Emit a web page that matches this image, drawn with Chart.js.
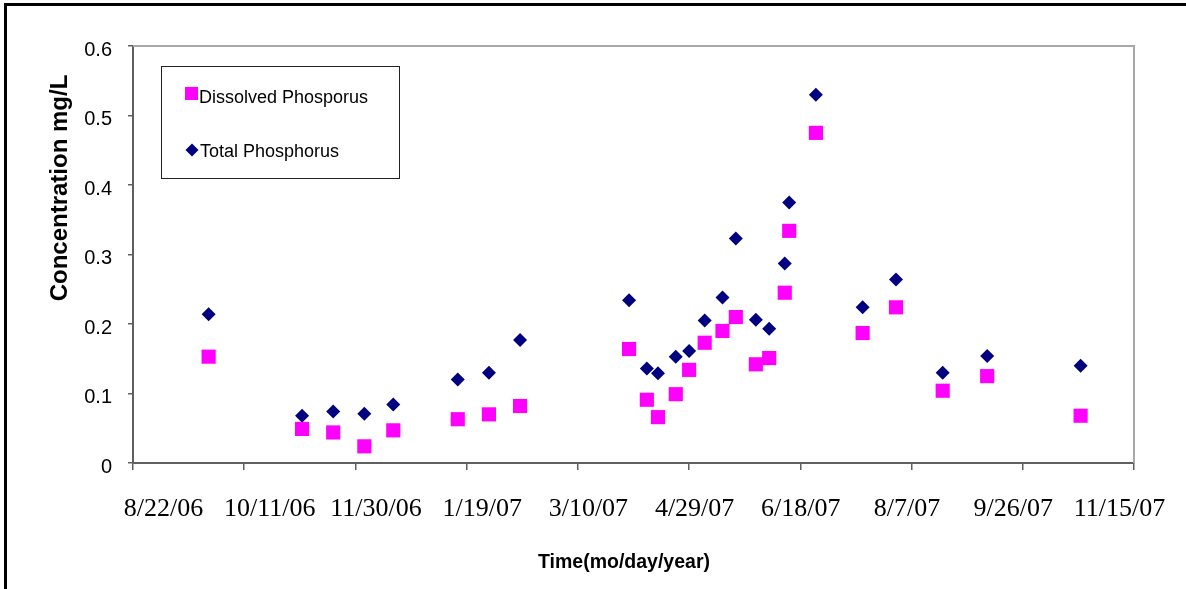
<!DOCTYPE html>
<html>
<head>
<meta charset="utf-8">
<title>Phosphorus concentration</title>
<script src="https://cdn.jsdelivr.net/npm/chart.js@4.4.1/dist/chart.umd.min.js"></script>
<style>
    html, body { margin: 0; padding: 0; background: #fff; }
    #wrap { position: relative; width: 1186px; height: 589px; }
    #frame {
        position: absolute; left: 4px; top: 3px; right: 0; bottom: 0;
        border-top: 3px solid #000; border-left: 3px solid #000;
        pointer-events: none;
    }
</style>
</head>
<body>
<div id="wrap">
    <canvas id="phosChart"></canvas>
    <div id="frame"></div>
</div>
<script>
const sampleDates = [
    "9/25/06", "11/6/06", "11/20/06", "12/4/06", "12/17/06", "1/15/07", "1/29/07", "2/12/07",
    "4/2/07", "4/10/07", "4/15/07", "4/23/07", "4/29/07", "5/6/07", "5/14/07", "5/20/07",
    "5/29/07", "6/4/07", "6/11/07", "6/13/07", "6/25/07", "7/16/07", "7/31/07", "8/21/07",
    "9/10/07", "10/22/07"
];
const dissolvedP = [
    0.153, 0.049, 0.044, 0.024, 0.047, 0.063, 0.070, 0.082,
    0.164, 0.091, 0.066, 0.099, 0.134, 0.173, 0.190, 0.210,
    0.142, 0.151, 0.245, 0.334, 0.475, 0.187, 0.224, 0.104,
    0.125, 0.068
];
const totalP = [
    0.214, 0.068, 0.074, 0.071, 0.084, 0.120, 0.130, 0.177,
    0.234, 0.136, 0.129, 0.153, 0.161, 0.205, 0.238, 0.323,
    0.206, 0.193, 0.287, 0.375, 0.530, 0.224, 0.264, 0.130,
    0.154, 0.140
];
const xTickLabels = ["8/22/06", "10/11/06", "11/30/06", "1/19/07", "3/10/07",
    "4/29/07", "6/18/07", "8/7/07", "9/26/07", "11/15/07"];
const yTickLabels = ["0", "0.1", "0.2", "0.3", "0.4", "0.5", "0.6"];
const seriesNames = ["Dissolved Phosporus", "Total Phosphorus"];

function dayNumber(str) {
    const [m, d, y] = str.split("/").map(Number);
    return Date.UTC(2000 + y, m - 1, d) / 86400000;
}

const firstDay = dayNumber(xTickLabels[0]);
const lastDay = dayNumber(xTickLabels[xTickLabels.length - 1]) - firstDay;
const dayStep = lastDay / (xTickLabels.length - 1);

function toPoints(values) {
    return values.map((v, i) => ({ x: dayNumber(sampleDates[i]) - firstDay, y: v }));
}

const sansFont = "'Liberation Sans', Arial, sans-serif";
const serifFont = "'Liberation Serif', 'Times New Roman', serif";

// legend box, axis titles, date labels and the light top/right frame
const chartExtras = {
    id: "chartExtras",
    beforeDatasetsDraw(chart) {
        const { ctx, chartArea: a } = chart;
        ctx.save();
        ctx.strokeStyle = "#a8a8a8";
        ctx.lineWidth = 2;
        ctx.beginPath();
        ctx.moveTo(a.left, a.top);
        ctx.lineTo(a.right, a.top);
        ctx.lineTo(a.right, a.bottom);
        ctx.stroke();
        ctx.restore();
    },
    afterDraw(chart) {
        const { ctx, chartArea: a } = chart;
        ctx.save();

        // legend
        const bx = a.left + 28, by = a.top + 20;
        ctx.fillStyle = "#fff";
        ctx.fillRect(bx, by, 238, 112);
        ctx.strokeStyle = "#222";
        ctx.lineWidth = 1;
        ctx.strokeRect(bx + 0.5, by + 0.5, 238, 112);

        ctx.fillStyle = "#ff00ff";
        ctx.fillRect(a.left + 52, a.top + 41, 13, 13);
        ctx.fillStyle = "#000080";
        const dx = a.left + 59, dy = a.top + 104;
        ctx.beginPath();
        ctx.moveTo(dx - 6.5, dy);
        ctx.lineTo(dx, dy - 6.5);
        ctx.lineTo(dx + 6.5, dy);
        ctx.lineTo(dx, dy + 6.5);
        ctx.closePath();
        ctx.fill();

        ctx.fillStyle = "#000";
        ctx.font = "18px " + sansFont;
        ctx.textAlign = "left";
        ctx.textBaseline = "middle";
        ctx.fillText(seriesNames[0], a.left + 66, a.top + 52);
        ctx.fillText(seriesNames[1], a.left + 67, a.top + 106);

        // date labels sit a little tighter than the tick marks in the original
        const xs = chart.scales.x;
        const mid = (a.left + a.right) / 2;
        ctx.font = "26px " + serifFont;
        ctx.textAlign = "center";
        xs.ticks.forEach((t, i) => {
            const px = xs.getPixelForValue(t.value);
            ctx.fillText(xTickLabels[i], mid + 8 + (px - mid) * 0.955, a.bottom + 46);
        });

        // axis titles
        ctx.font = "bold 19.5px " + sansFont;
        ctx.fillText("Time(mo/day/year)", 624, 563);

        ctx.translate(60, 188);
        ctx.rotate(-Math.PI / 2);
        ctx.font = "bold 24px " + sansFont;
        ctx.fillText("Concentration mg/L", 0, 0);
        ctx.restore();
    }
};

new Chart(document.getElementById("phosChart"), {
    type: "scatter",
    data: {
        datasets: [
            {
                label: seriesNames[0],
                data: toPoints(dissolvedP),
                pointStyle: "rect",
                pointRadius: 10,
                borderWidth: 0,
                backgroundColor: "#ff00ff",
                borderColor: "#ff00ff"
            },
            {
                label: seriesNames[1],
                data: toPoints(totalP),
                pointStyle: "rectRot",
                pointRadius: 7,
                borderWidth: 0,
                backgroundColor: "#000080",
                borderColor: "#000080"
            }
        ]
    },
    options: {
        responsive: true,
        maintainAspectRatio: false,
        animation: false,
        events: [],
        layout: { padding: { top: 46, right: 52, left: 0, bottom: 0 } },
        plugins: {
            legend: { display: false },
            tooltip: { enabled: false }
        },
        scales: {
            x: {
                type: "linear",
                min: 0,
                max: lastDay,
                afterFit: scale => {
                    scale.height = 126;
                    scale.paddingLeft = 0;
                    scale.paddingRight = 0;
                },
                grid: { drawOnChartArea: false, drawTicks: true, tickLength: 7, color: "#606060", lineWidth: 1.5 },
                border: { display: true, color: "#606060", width: 2 },
                ticks: {
                    display: false,
                    stepSize: dayStep,
                    autoSkip: false
                }
            },
            y: {
                min: 0,
                max: 0.6,
                afterFit: scale => {
                    scale.width = 133;
                    scale.paddingTop = 0;
                    scale.paddingBottom = 0;
                },
                grid: { drawOnChartArea: false, drawTicks: true, tickLength: 5, color: "#606060", lineWidth: 1.5 },
                border: { display: true, color: "#606060", width: 2 },
                ticks: {
                    stepSize: 0.1,
                    padding: 16,
                    labelOffset: 4,
                    color: "#000",
                    font: { family: sansFont, size: 20 },
                    callback: value => yTickLabels[Math.round(value * 10)]
                }
            }
        }
    },
    plugins: [chartExtras]
});
</script>
</body>
</html>
